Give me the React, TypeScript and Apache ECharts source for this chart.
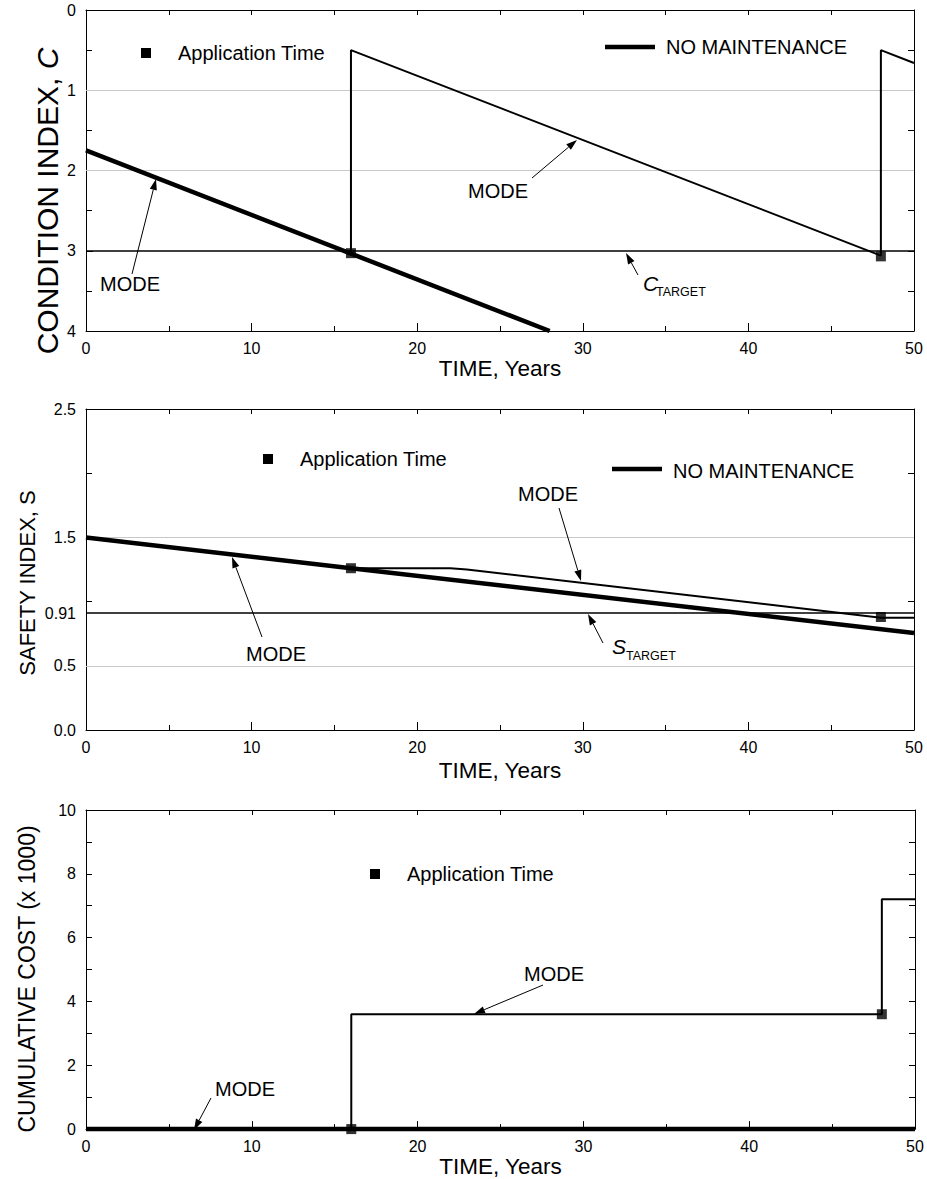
import React, { useEffect, useRef } from "react";
import * as echarts from "echarts";

const W = 927;
const H = 1179;
const FONT = "'Liberation Sans', Arial, Helvetica, sans-serif";

// ---------- Panel 1 : condition index ----------
const condNoMaint: number[][] = [[0, 1.75], [28, 4.0]];
const condMaint: number[][] = [[0, 1.75], [16, 3.04], [16, 0.5], [48, 3.06], [48, 0.5], [50, 0.66]];
const condApp: number[][] = [[16, 3.03], [48, 3.07]];
const cTarget = 3;
const condGrid = [1, 2];

// ---------- Panel 2 : safety index ----------
const safNoMaint: number[][] = [[0, 1.5], [16, 1.26], [50, 0.755]];
const safMaint: number[][] = [[0, 1.5], [16, 1.26], [22, 1.26], [23, 1.25], [48, 0.875], [50, 0.875]];
const safApp: number[][] = [[16, 1.26], [48, 0.88]];
const sTarget = 0.91;
const safGrid = [0.5, 1.5];
const safHiddenLabels = [1, 2];

// ---------- Panel 3 : cumulative cost ----------
const costNoMaint: number[][] = [[0, 0], [50, 0]];
const costMaint: number[][] = [[0, 0], [16, 0], [16, 3.6], [48, 3.6], [48, 7.2], [50, 7.2]];
const costApp: number[][] = [[16, 0], [48, 3.6]];

const grids = [
  { left: 86, top: 10, width: 828, height: 321 },
  { left: 86, top: 409, width: 828, height: 321 },
  { left: 86, top: 810, width: 829, height: 322 },
];
const nameGaps = [33, 40, 35];
const ANN = 20;

function arrow(x1: number, y1: number, x2: number, y2: number) {
  const dx = x2 - x1, dy = y2 - y1;
  const len = Math.sqrt(dx * dx + dy * dy);
  const ux = dx / len, uy = dy / len;
  const hl = 11, hw = 3.6;
  const bx = x2 - ux * hl, by = y2 - uy * hl;
  return [
    { type: "line", z: 100, shape: { x1, y1, x2: bx, y2: by }, style: { stroke: "#000", lineWidth: 1 } },
    {
      type: "polygon", z: 100,
      shape: { points: [[x2, y2], [bx - uy * hw, by + ux * hw], [bx + uy * hw, by - ux * hw]] },
      style: { fill: "#000" },
    },
  ];
}

function txt(x: number, y: number, text: string, size: number, extra: any = {}) {
  return {
    type: "text", z: 100, x, y,
    style: { text, fontFamily: FONT, fontSize: size, fill: "#000", align: "left", verticalAlign: "middle", ...extra },
  };
}

function sq(x: number, y: number) {
  return { type: "rect", z: 100, shape: { x: x - 5, y: y - 5, width: 10, height: 10 }, style: { fill: "#000" } };
}

export default function App() {
  const ref = useRef<HTMLDivElement>(null);
  useEffect(() => {
    if (!ref.current) return;
    const chart = echarts.init(ref.current, undefined, { renderer: "svg" });

    const xAxis: any[] = [];
    const yAxis: any[] = [];
    grids.forEach((g, i) => {
      xAxis.push({
        type: "value", gridIndex: i, min: 0, max: 50, interval: 10, position: "bottom",
        name: "TIME, Years", nameLocation: "middle", nameGap: nameGaps[i],
        nameTextStyle: { fontFamily: FONT, fontSize: 22.5, color: "#000", verticalAlign: "middle" },
        axisLine: { show: true, onZero: false, lineStyle: { color: "#000", width: 1 } },
        axisTick: { show: true, inside: true, length: 8, lineStyle: { color: "#000" } },
        minorTick: { show: true, splitNumber: 2, length: 5, lineStyle: { color: "#000" } },
        axisLabel: { fontFamily: FONT, fontSize: 16, color: "#000", margin: 9 },
        splitLine: { show: false },
      });
      xAxis.push({
        type: "value", gridIndex: i, min: 0, max: 50, interval: 5, position: "top",
        axisLine: { show: true, onZero: false, lineStyle: { color: "#000", width: 1 } },
        axisTick: { show: true, inside: true, length: 5, lineStyle: { color: "#000" } },
        axisLabel: { show: false },
        splitLine: { show: false },
      });
    });

    const yCommon = {
      type: "value",
      axisLine: { show: true, onZero: false, lineStyle: { color: "#000", width: 1 } },
      splitLine: { show: false },
    };
    // panel 1
    yAxis.push({
      ...yCommon, gridIndex: 0, min: 0, max: 4, interval: 1, inverse: true, position: "left",
      axisTick: { show: true, inside: true, length: 7, lineStyle: { color: "#000" } },
      minorTick: { show: true, splitNumber: 2, length: 6, lineStyle: { color: "#000" } },
      axisLabel: { fontFamily: FONT, fontSize: 16, color: "#000", margin: 10 },
    });
    yAxis.push({
      ...yCommon, gridIndex: 0, min: 0, max: 4, interval: 0.5, inverse: true, position: "right",
      axisTick: { show: true, inside: true, length: 6, lineStyle: { color: "#000" } },
      axisLabel: { show: false },
    });
    // panel 2
    yAxis.push({
      ...yCommon, gridIndex: 1, min: 0, max: 2.5, interval: 0.5, position: "left",
      axisTick: { show: true, inside: true, length: 6, lineStyle: { color: "#000" } },
      axisLabel: {
        fontFamily: FONT, fontSize: 16, color: "#000", margin: 10,
        formatter: (v: number) => (safHiddenLabels.some((h) => Math.abs(h - v) < 1e-6) ? "" : v.toFixed(1)),
      },
    });
    yAxis.push({
      ...yCommon, gridIndex: 1, min: 0, max: 2.5, interval: 0.5, position: "right",
      axisTick: { show: true, inside: true, length: 6, lineStyle: { color: "#000" } },
      axisLabel: { show: false },
    });
    // panel 3
    yAxis.push({
      ...yCommon, gridIndex: 2, min: 0, max: 10, interval: 2, position: "left",
      axisTick: { show: true, inside: true, length: 6, lineStyle: { color: "#000" } },
      minorTick: { show: true, splitNumber: 2, length: 6, lineStyle: { color: "#000" } },
      axisLabel: { fontFamily: FONT, fontSize: 16, color: "#000", margin: 10 },
    });
    yAxis.push({
      ...yCommon, gridIndex: 2, min: 0, max: 10, interval: 1, position: "right",
      axisTick: { show: true, inside: true, length: 6, lineStyle: { color: "#000" } },
      axisLabel: { show: false },
    });

    const thick = (data: number[][], p: number, markLine?: any) => ({
      type: "line", xAxisIndex: 2 * p, yAxisIndex: 2 * p, data, symbol: "none", clip: false,
      lineStyle: { color: "#000", width: 4.5 }, z: 5, markLine,
    });
    const thin = (data: number[][], p: number) => ({
      type: "line", xAxisIndex: 2 * p, yAxisIndex: 2 * p, data, symbol: "none", clip: false,
      lineStyle: { color: "#000", width: 2 }, z: 6,
    });
    const marks = (data: number[][], p: number) => ({
      type: "scatter", xAxisIndex: 2 * p, yAxisIndex: 2 * p, data, symbol: "rect", symbolSize: 10,
      itemStyle: { color: "#000" }, z: 8, clip: false,
    });
    const gridLine = (v: number) => ({
      yAxis: v, lineStyle: { color: "#c8c8c8", width: 1, type: "solid" }, label: { show: false },
    });

    const series: any[] = [
      thick(condNoMaint, 0, {
        symbol: "none", silent: true, z: 1,
        data: [
          ...condGrid.map(gridLine),
          { yAxis: cTarget, lineStyle: { color: "#000", width: 1.5, type: "solid" }, label: { show: false } },
        ],
      }),
      thin(condMaint, 0),
      marks(condApp, 0),
      thick(safNoMaint, 1, {
        symbol: "none", silent: true, z: 1,
        data: [
          ...safGrid.map(gridLine),
          {
            yAxis: sTarget, lineStyle: { color: "#000", width: 1.5, type: "solid" },
            label: { show: true, position: "start", formatter: "0.91", fontFamily: FONT, fontSize: 16, color: "#000", distance: 10 },
          },
        ],
      }),
      thin(safMaint, 1),
      marks(safApp, 1),
      thick(costNoMaint, 2),
      thin(costMaint, 2),
      marks(costApp, 2),
    ];

    const graphic: any[] = [
      // y axis titles
      {
        type: "text", z: 100, x: 47, y: 201, rotation: Math.PI / 2,
        style: {
          text: "{a|CONDITION INDEX, }{b|C}", align: "center", verticalAlign: "middle",
          rich: {
            a: { fontFamily: FONT, fontSize: 30, fill: "#000" },
            b: { fontFamily: FONT, fontSize: 30, fontStyle: "italic", fill: "#000" },
          },
        },
      },
      {
        type: "text", z: 100, x: 27, y: 583, rotation: Math.PI / 2,
        style: { text: "SAFETY INDEX, S", fontFamily: FONT, fontSize: 22, fill: "#000", align: "center", verticalAlign: "middle" },
      },
      {
        type: "text", z: 100, x: 27, y: 979, rotation: Math.PI / 2,
        style: { text: "CUMULATIVE COST (x 1000)", fontFamily: FONT, fontSize: 23, fill: "#000", align: "center", verticalAlign: "middle" },
      },
      // panel 1 annotations
      sq(146, 53), txt(178, 53, "Application Time", ANN),
      { type: "line", z: 100, shape: { x1: 605, y1: 47, x2: 655, y2: 47 }, style: { stroke: "#000", lineWidth: 4.5 } },
      txt(666, 47, "NO MAINTENANCE", ANN),
      txt(100, 284, "MODE", ANN), ...arrow(132, 274, 156, 179),
      txt(468, 191, "MODE", ANN), ...arrow(532, 178, 577, 140),
      ...arrow(638, 275, 626, 253),
      txt(643, 283, "C", 21, { fontStyle: "italic" }), txt(656, 292, "TARGET", 12.5),
      // panel 2 annotations
      sq(268, 459), txt(300, 459, "Application Time", ANN),
      { type: "line", z: 100, shape: { x1: 612, y1: 469, x2: 662, y2: 469 }, style: { stroke: "#000", lineWidth: 4.5 } },
      txt(673, 471, "NO MAINTENANCE", ANN),
      txt(246, 654, "MODE", ANN), ...arrow(262, 637, 232, 557),
      txt(518, 494, "MODE", ANN), ...arrow(559, 508, 581, 581),
      ...arrow(603, 643, 588, 614),
      txt(612, 646, "S", 21, { fontStyle: "italic" }), txt(626, 656, "TARGET", 12.5),
      // panel 3 annotations
      sq(375, 874), txt(407, 874, "Application Time", ANN),
      txt(524, 974, "MODE", ANN), ...arrow(543, 985, 474, 1014),
      txt(215, 1089, "MODE", ANN), ...arrow(211, 1098, 194, 1130),
    ];

    chart.setOption({
      animation: false,
      backgroundColor: "#fff",
      grid: grids,
      xAxis,
      yAxis,
      series,
      graphic,
    });
    return () => chart.dispose();
  }, []);

  return (
    <div
      ref={ref}
      style={{ position: "fixed", left: 0, top: 0, width: W, height: H, background: "#fff" }}
    />
  );
}
